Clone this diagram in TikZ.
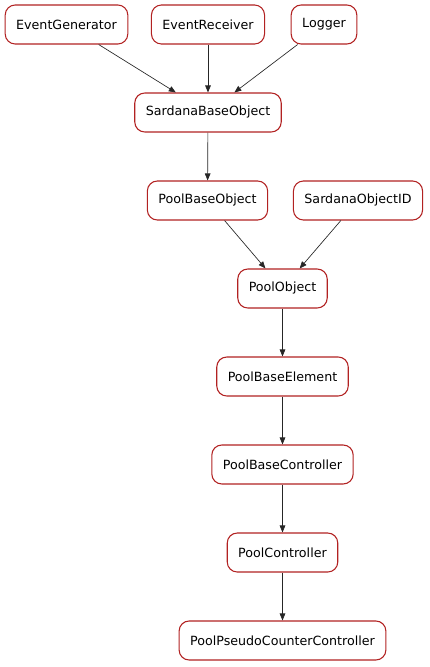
\documentclass[tikz,border=0pt]{standalone}
\usepackage{fontspec}
\setmainfont{DejaVu Sans}
\usetikzlibrary{arrows.meta}
\definecolor{classborder}{RGB}{178,34,34}
\tikzset{
	every class/.style={draw=classborder, line width=0.8pt, rounded corners=7.5pt,
		fill=white, minimum height=29.25pt, inner xsep=8.25pt,
		font=\fontsize{9.5}{11}\selectfont},
	inherit/.style={-{Triangle[length=5.25pt, width=4.2pt]}, draw=black!85, line width=0.5pt}
}
\begin{document}
\begin{tikzpicture}[x=0.75pt, y=-0.75pt]
\useasboundingbox (0,0) rectangle (429,667);
% classes
\foreach \n/\x in {EventGenerator/66.5, EventReceiver/208, Logger/324}
	\node [every class/.try] (\n) at (\x,24.5) {\n};
\node [every class/.try] (SardanaBaseObject) at (208,112.5) {SardanaBaseObject};
\foreach \n/\x in {PoolBaseObject/207.5, SardanaObjectID/358}
	\node [every class/.try] (\n) at (\x,200.5) {\n};
\foreach \n [count=\y] in {PoolObject,PoolBaseElement,PoolBaseController,PoolController,PoolPseudoCounterController}
	\node [every class/.try] (\n) at (282.5,200.5+\y*88) {\n};

% inheritance
\foreach \n in {EventGenerator, EventReceiver, Logger}
	\draw [inherit] (\n) -- (SardanaBaseObject);
\draw [inherit] (SardanaBaseObject) -- (PoolBaseObject);
\foreach \n in {PoolBaseObject, SardanaObjectID}
	\draw [inherit] (\n) -- (PoolObject);
\foreach \a/\b in {PoolObject/PoolBaseElement, PoolBaseElement/PoolBaseController,
		PoolBaseController/PoolController, PoolController/PoolPseudoCounterController}
	\draw [inherit] (\a) -- (\b);

\end{tikzpicture}
\end{document}
